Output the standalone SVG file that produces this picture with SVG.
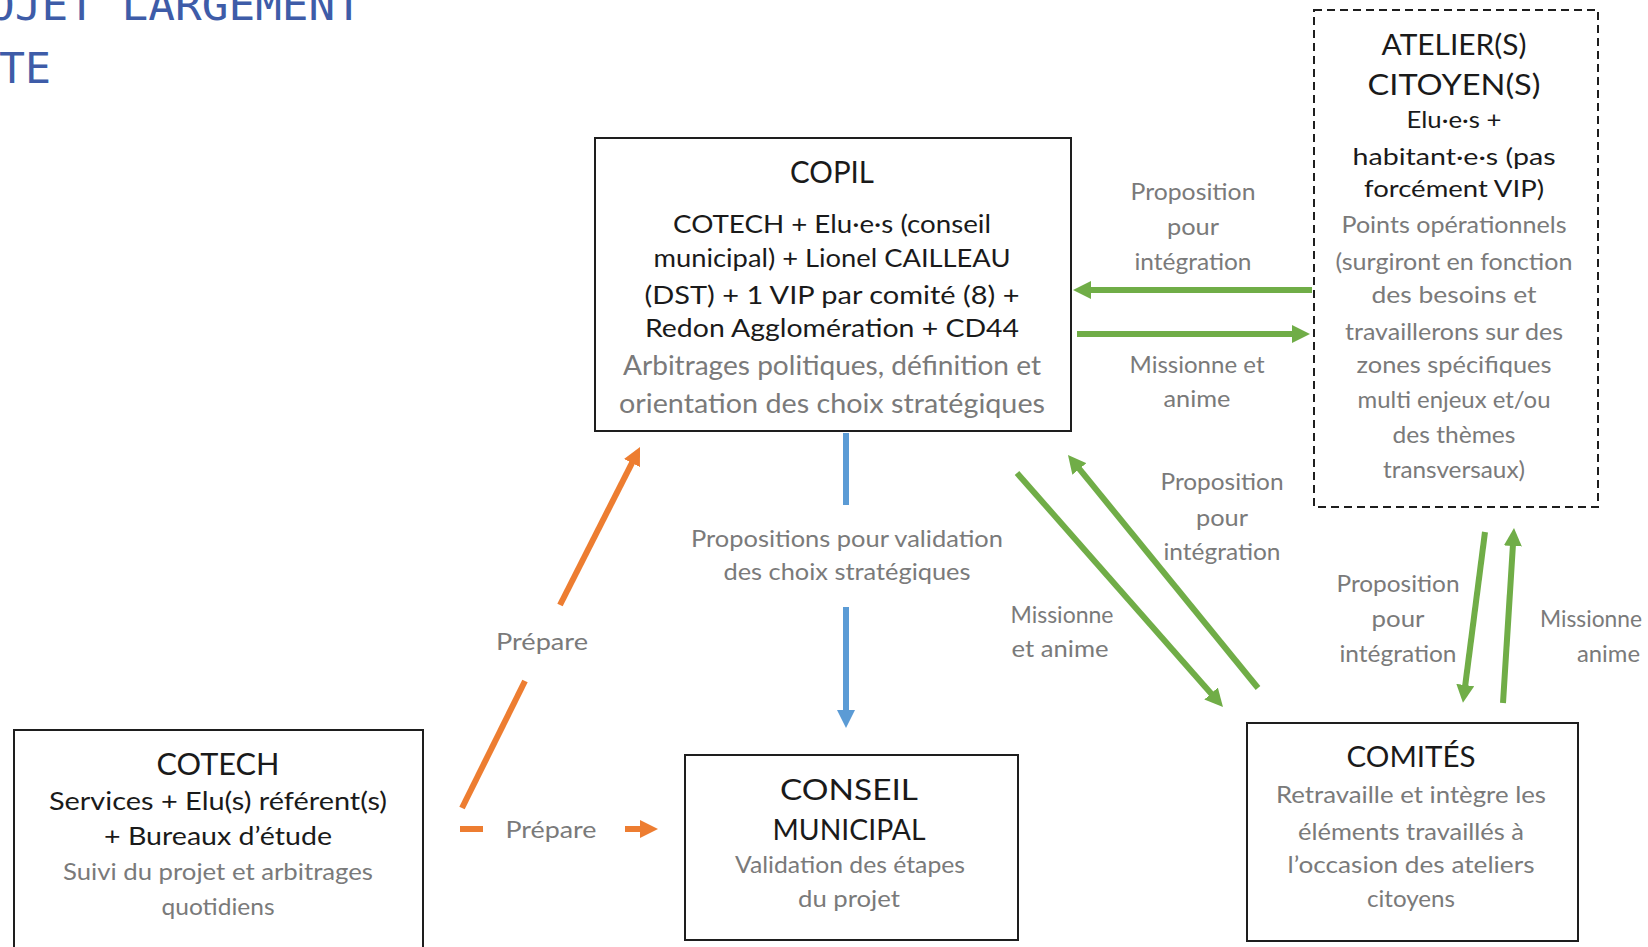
<svg xmlns="http://www.w3.org/2000/svg" width="1648" height="947" viewBox="0 0 1648 947">
<defs>
<style>
.box{fill:#fff;stroke:#1e1e1e;stroke-width:2}
.dash{fill:#fff;stroke:#1e1e1e;stroke-width:2;stroke-dasharray:8 5}
text{font-family:Lato,"Liberation Sans",sans-serif;text-anchor:middle}
.t{fill:#1a1a1a;font-size:30px}
.d{fill:#1a1a1a;font-size:25px}
.g{fill:#7a7a7a;font-size:24px}
.l{fill:#7a7a7a;font-size:24px}
.hd{font-family:"DejaVu Sans Mono",monospace;fill:#3e5ca8;font-size:42px;text-anchor:start}
.gr{stroke:#70ad47;stroke-width:6;fill:none}
.bl{stroke:#5b9bd5;stroke-width:6;fill:none}
.or{stroke:#ed7d31;stroke-width:6;fill:none}
</style>
<marker id="ag" viewBox="0 0 18 18" markerWidth="18" markerHeight="18" markerUnits="userSpaceOnUse" refX="2" refY="9" orient="auto"><path d="M0,0 L18,9 L0,18 z" fill="#70ad47"/></marker>
<marker id="ab" viewBox="0 0 18 18" markerWidth="18" markerHeight="18" markerUnits="userSpaceOnUse" refX="2" refY="9" orient="auto"><path d="M0,0 L18,9 L0,18 z" fill="#5b9bd5"/></marker>
<marker id="ao" viewBox="0 0 18 18" markerWidth="18" markerHeight="18" markerUnits="userSpaceOnUse" refX="2" refY="9" orient="auto"><path d="M0,0 L18,9 L0,18 z" fill="#ed7d31"/></marker>
</defs>
<rect width="1648" height="947" fill="#fff"/>

<g id="heading">
<text class="hd" x="-12" y="20" textLength="374" lengthAdjust="spacingAndGlyphs">OJET LARGEMENT</text>
<text class="hd" x="-1" y="83" textLength="52" lengthAdjust="spacingAndGlyphs">TE</text>
</g>

<g id="connectors">
<line class="gr" x1="1312" y1="290" x2="1089" y2="290" marker-end="url(#ag)"/>
<line class="gr" x1="1077" y1="334" x2="1294" y2="334" marker-end="url(#ag)"/>
<line class="gr" x1="1017" y1="473" x2="1212.4" y2="695" marker-end="url(#ag)"/>
<line class="gr" x1="1258" y1="688" x2="1078.1" y2="467.4" marker-end="url(#ag)"/>
<line class="gr" x1="1485" y1="532" x2="1465" y2="687" marker-end="url(#ag)"/>
<line class="gr" x1="1503" y1="703" x2="1513" y2="544" marker-end="url(#ag)"/>
<line class="bl" x1="846" y1="433" x2="846" y2="505"/>
<line class="bl" x1="846" y1="607" x2="846" y2="712" marker-end="url(#ab)"/>
<line class="or" x1="462" y1="808" x2="525" y2="681"/>
<line class="or" x1="560" y1="605" x2="632.8" y2="461.3" marker-end="url(#ao)"/>
<line class="or" x1="460" y1="829" x2="483" y2="829"/>
<line class="or" x1="625" y1="829" x2="642" y2="829" marker-end="url(#ao)"/>
<g id="connector-labels">
<text class="l" x="1193" y="200" textLength="125" lengthAdjust="spacingAndGlyphs">Proposition</text>
<text class="l" x="1193" y="235" textLength="52" lengthAdjust="spacingAndGlyphs">pour</text>
<text class="l" x="1193" y="270" textLength="117" lengthAdjust="spacingAndGlyphs">intégration</text>
<text class="l" x="1197" y="373" textLength="135" lengthAdjust="spacingAndGlyphs">Missionne et</text>
<text class="l" x="1197" y="407" textLength="67" lengthAdjust="spacingAndGlyphs">anime</text>
<text class="l" x="1222" y="490" textLength="123" lengthAdjust="spacingAndGlyphs">Proposition</text>
<text class="l" x="1222" y="526" textLength="52" lengthAdjust="spacingAndGlyphs">pour</text>
<text class="l" x="1222" y="560" textLength="117" lengthAdjust="spacingAndGlyphs">intégration</text>
<text class="l" x="1062" y="623" textLength="103" lengthAdjust="spacingAndGlyphs">Missionne</text>
<text class="l" x="1060" y="657" textLength="97" lengthAdjust="spacingAndGlyphs">et anime</text>
<text class="l" x="847" y="547" textLength="312" lengthAdjust="spacingAndGlyphs">Propositions pour validation</text>
<text class="l" x="847" y="580" textLength="247" lengthAdjust="spacingAndGlyphs">des choix stratégiques</text>
<text class="l" x="1398" y="592" textLength="123" lengthAdjust="spacingAndGlyphs">Proposition</text>
<text class="l" x="1398" y="627" textLength="53" lengthAdjust="spacingAndGlyphs">pour</text>
<text class="l" x="1398" y="662" textLength="117" lengthAdjust="spacingAndGlyphs">intégration</text>
<text class="l" x="1642" y="627" style="text-anchor:end" textLength="102" lengthAdjust="spacingAndGlyphs">Missionne</text>
<text class="l" x="1640" y="662" style="text-anchor:end" textLength="63" lengthAdjust="spacingAndGlyphs">anime</text>
<text class="l" x="542" y="650" textLength="92" lengthAdjust="spacingAndGlyphs">Prépare</text>
<text class="l" x="551" y="838" textLength="91" lengthAdjust="spacingAndGlyphs">Prépare</text>
</g>
</g>

<g id="copil">
<rect class="box" x="595" y="138" width="476" height="293"/>
<text class="t" x="832" y="183" textLength="84" lengthAdjust="spacingAndGlyphs">COPIL</text>
<text class="d" x="832" y="233" textLength="318" lengthAdjust="spacingAndGlyphs">COTECH + Elu·e·s (conseil</text>
<text class="d" x="832" y="267" textLength="357" lengthAdjust="spacingAndGlyphs">municipal) + Lionel CAILLEAU</text>
<text class="d" x="832" y="304" textLength="375" lengthAdjust="spacingAndGlyphs">(DST) + 1 VIP par comité (8) +</text>
<text class="d" x="832" y="337" textLength="374" lengthAdjust="spacingAndGlyphs">Redon Agglomération  + CD44</text>
<text class="g" x="832" y="375" style="font-size:27px" textLength="418" lengthAdjust="spacingAndGlyphs">Arbitrages politiques, définition et</text>
<text class="g" x="832" y="413" style="font-size:27px" textLength="426" lengthAdjust="spacingAndGlyphs">orientation des choix stratégiques</text>
</g>

<g id="ateliers">
<rect class="dash" x="1314" y="10" width="284" height="497"/>
<text class="t" x="1454" y="55" style="font-size:28px" textLength="145" lengthAdjust="spacingAndGlyphs">ATELIER(S)</text>
<text class="t" x="1454" y="95" style="font-size:28px" textLength="173" lengthAdjust="spacingAndGlyphs">CITOYEN(S)</text>
<text class="d" x="1454" y="128" style="font-size:24px" textLength="95" lengthAdjust="spacingAndGlyphs">Elu·e·s +</text>
<text class="d" x="1454" y="165" style="font-size:24px" textLength="203" lengthAdjust="spacingAndGlyphs">habitant·e·s (pas</text>
<text class="d" x="1454" y="197" style="font-size:24px" textLength="180" lengthAdjust="spacingAndGlyphs">forcément VIP)</text>
<text class="g" x="1454" y="233" style="font-size:23px" textLength="225" lengthAdjust="spacingAndGlyphs">Points opérationnels</text>
<text class="g" x="1454" y="270" style="font-size:23px" textLength="237" lengthAdjust="spacingAndGlyphs">(surgiront en fonction</text>
<text class="g" x="1454" y="303" style="font-size:23px" textLength="165" lengthAdjust="spacingAndGlyphs">des besoins et</text>
<text class="g" x="1454" y="340" style="font-size:23px" textLength="218" lengthAdjust="spacingAndGlyphs">travaillerons sur des</text>
<text class="g" x="1454" y="373" style="font-size:23px" textLength="195" lengthAdjust="spacingAndGlyphs">zones spécifiques</text>
<text class="g" x="1454" y="408" style="font-size:23px" textLength="193" lengthAdjust="spacingAndGlyphs">multi enjeux et/ou</text>
<text class="g" x="1454" y="443" style="font-size:23px" textLength="123" lengthAdjust="spacingAndGlyphs">des thèmes</text>
<text class="g" x="1454" y="478" style="font-size:23px" textLength="142" lengthAdjust="spacingAndGlyphs">transversaux)</text>
</g>

<g id="cotech">
<rect class="box" x="14" y="730" width="409" height="240"/>
<text class="t" x="218" y="775" textLength="123" lengthAdjust="spacingAndGlyphs">COTECH</text>
<text class="d" x="218" y="810" textLength="338" lengthAdjust="spacingAndGlyphs">Services + Elu(s) référent(s)</text>
<text class="d" x="218" y="845" textLength="228" lengthAdjust="spacingAndGlyphs">+ Bureaux d’étude</text>
<text class="g" x="218" y="880" textLength="310" lengthAdjust="spacingAndGlyphs">Suivi du projet et arbitrages</text>
<text class="g" x="218" y="915" textLength="113" lengthAdjust="spacingAndGlyphs">quotidiens</text>
</g>

<g id="conseil">
<rect class="box" x="685" y="755" width="333" height="185"/>
<text class="t" x="849" y="800" style="font-size:28px" textLength="138" lengthAdjust="spacingAndGlyphs">CONSEIL</text>
<text class="t" x="849" y="840" style="font-size:28px" textLength="153" lengthAdjust="spacingAndGlyphs">MUNICIPAL</text>
<text class="g" x="850" y="873" textLength="230" lengthAdjust="spacingAndGlyphs">Validation des étapes</text>
<text class="g" x="849" y="907" textLength="102" lengthAdjust="spacingAndGlyphs">du projet</text>
</g>

<g id="comites">
<rect class="box" x="1247" y="723" width="331" height="218"/>
<text class="t" x="1411" y="767" style="font-size:28px" textLength="129" lengthAdjust="spacingAndGlyphs">COMITÉS</text>
<text class="g" x="1411" y="803" style="font-size:23px" textLength="270" lengthAdjust="spacingAndGlyphs">Retravaille et intègre les</text>
<text class="g" x="1411" y="840" style="font-size:23px" textLength="226" lengthAdjust="spacingAndGlyphs">éléments travaillés à</text>
<text class="g" x="1411" y="873" style="font-size:23px" textLength="247" lengthAdjust="spacingAndGlyphs">l’occasion des ateliers</text>
<text class="g" x="1411" y="907" style="font-size:23px" textLength="88" lengthAdjust="spacingAndGlyphs">citoyens</text>
</g>
</svg>
